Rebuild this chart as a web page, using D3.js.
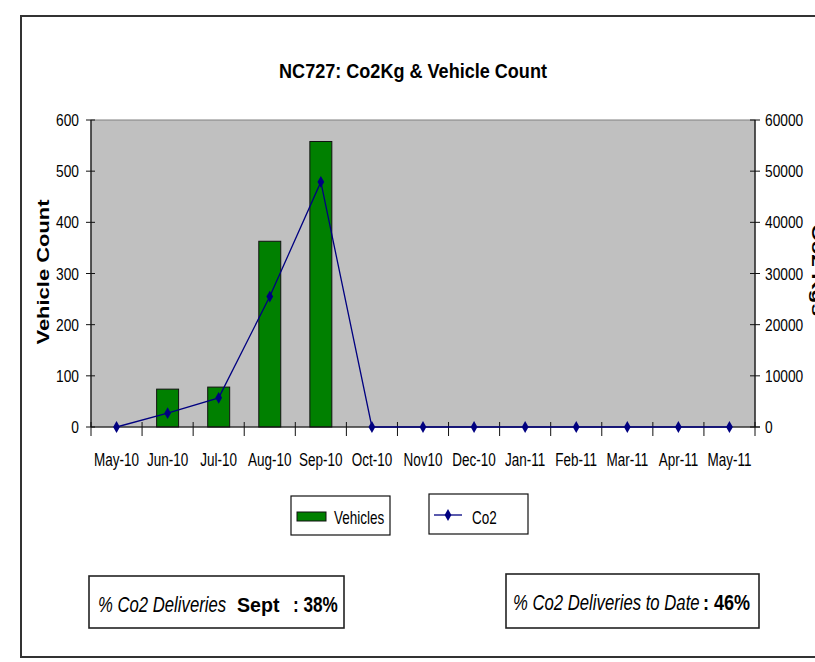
<!DOCTYPE html>
<html>
<head>
<meta charset="utf-8">
<script src="https://cdn.jsdelivr.net/npm/d3@7"></script>
<style>
  body { margin: 0; background: #fff; }
  text { font-family: "Liberation Sans", Arial, sans-serif; }
</style>
</head>
<body>
<div id="chart"></div>
<script>
// chart data
var months = ["May-10", "Jun-10", "Jul-10", "Aug-10", "Sep-10", "Oct-10", "Nov10",
              "Dec-10", "Jan-11", "Feb-11", "Mar-11", "Apr-11", "May-11"];
var vehicles = [0, 74, 78, 363, 558, 0, 0, 0, 0, 0, 0, 0, 0];
var co2 = [0, 2700, 5700, 25500, 47900, 0, 0, 0, 0, 0, 0, 0, 0];
var vehicleTicks = [0, 100, 200, 300, 400, 500, 600];
var co2Ticks = [0, 10000, 20000, 30000, 40000, 50000, 60000];

var width = 815, height = 662;
var plotL = 91, plotR = 755, plotT = 120, plotB = 427;

var svg = d3.select('#chart').append('svg')
  .attr('width', width)
  .attr('height', height);

// narrow text: the original uses a condensed face, so squeeze Liberation Sans
function ntext(parent, x, y, str, size, sx) {
  return parent.append('text')
    .attr('transform', 'translate(' + x + ',' + y + ') scale(' + sx + ',1)')
    .attr('font-size', size)
    .text(str);
}

// outer frame
svg.append('rect')
  .attr('x', 21).attr('y', 16)
  .attr('width', 820).attr('height', 641)
  .attr('fill', '#fff')
  .attr('stroke', '#333').attr('stroke-width', 2);

var x = d3.scaleBand()
  .domain(months)
  .range([plotL, plotR]);

var yLeft = d3.scaleLinear().domain([0, 600]).range([plotB, plotT]);
var yRight = d3.scaleLinear().domain([0, 60000]).range([plotB, plotT]);

// plot area
svg.append('rect')
  .attr('x', plotL).attr('y', plotT)
  .attr('width', plotR - plotL).attr('height', plotB - plotT)
  .attr('fill', '#c0c0c0')
  .attr('stroke', '#808080').attr('stroke-width', 1);

// title
ntext(svg, 413, 78, 'NC727: Co2Kg & Vehicle Count', 21, 0.86)
  .attr('text-anchor', 'middle')
  .attr('font-weight', 'bold');

// bars
var barW = x.bandwidth() * 0.43;
svg.selectAll('.bar')
  .data(vehicles)
  .enter().append('rect')
  .attr('class', 'bar')
  .attr('x', function(d, i) { return x(months[i]) + (x.bandwidth() - barW) / 2; })
  .attr('y', function(d) { return yLeft(d); })
  .attr('width', barW)
  .attr('height', function(d) { return plotB - yLeft(d); })
  .attr('fill', '#008000')
  .attr('stroke', '#111').attr('stroke-width', 1)
  .style('display', function(d) { return d > 0 ? null : 'none'; });

// axes lines
function line(x1, y1, x2, y2) {
  svg.append('line')
    .attr('x1', x1).attr('y1', y1).attr('x2', x2).attr('y2', y2)
    .attr('stroke', '#111').attr('stroke-width', 1.2);
}
line(plotL, plotT, plotL, plotB);
line(plotR, plotT, plotR, plotB);

// left axis
var leftAxis = svg.append('g').attr('transform', 'translate(' + plotL + ',0)');
leftAxis.selectAll('line').data(vehicleTicks).enter().append('line')
  .attr('x1', -5).attr('x2', 4)
  .attr('y1', function(d) { return yLeft(d); })
  .attr('y2', function(d) { return yLeft(d); })
  .attr('stroke', '#111');
vehicleTicks.forEach(function(d) {
  ntext(leftAxis, -12, yLeft(d) + 6, d, 16, 0.86).attr('text-anchor', 'end');
});

// right axis
var rightAxis = svg.append('g').attr('transform', 'translate(' + plotR + ',0)');
rightAxis.selectAll('line').data(co2Ticks).enter().append('line')
  .attr('x1', -5).attr('x2', 5)
  .attr('y1', function(d) { return yRight(d); })
  .attr('y2', function(d) { return yRight(d); })
  .attr('stroke', '#111');
co2Ticks.forEach(function(d) {
  ntext(rightAxis, 10, yRight(d) + 6, d, 16, 0.86);
});

// x axis
line(plotL, plotB, plotR + 5, plotB);
var ticksX = months.map(function(m) { return x(m); }).concat([plotR]);
svg.selectAll('.xtick').data(ticksX).enter().append('line')
  .attr('class', 'xtick')
  .attr('x1', function(d) { return d; }).attr('x2', function(d) { return d; })
  .attr('y1', plotB - 5).attr('y2', plotB + 9)
  .attr('stroke', '#111');
months.forEach(function(m) {
  ntext(svg, x(m) + x.bandwidth() / 2, 466, m, 18.5, 0.73).attr('text-anchor', 'middle');
});

// axis titles
svg.append('text')
  .attr('transform', 'translate(49,272) rotate(-90)')
  .attr('text-anchor', 'middle')
  .attr('font-size', 16).attr('font-weight', 'bold')
  .attr('textLength', 145).attr('lengthAdjust', 'spacingAndGlyphs')
  .text('Vehicle Count');
svg.append('text')
  .attr('transform', 'translate(812,270) rotate(90)')
  .attr('text-anchor', 'middle')
  .attr('font-size', 16).attr('font-weight', 'bold')
  .attr('textLength', 92).attr('lengthAdjust', 'spacingAndGlyphs')
  .text('Co2 Kgs');

// co2 line
var co2Line = d3.line()
  .x(function(d, i) { return x(months[i]) + x.bandwidth() / 2; })
  .y(function(d) { return yRight(d); });
svg.append('path')
  .datum(co2)
  .attr('d', co2Line)
  .attr('fill', 'none')
  .attr('stroke', '#000080').attr('stroke-width', 1.3);
var diamond = d3.symbol().type(d3.symbolDiamond).size(40);
svg.selectAll('.pt').data(co2).enter().append('path')
  .attr('class', 'pt')
  .attr('d', diamond)
  .attr('transform', function(d, i) {
    return 'translate(' + (x(months[i]) + x.bandwidth() / 2) + ',' + yRight(d) + ')';
  })
  .attr('fill', '#000080');

// legend
var lg1 = svg.append('g').attr('transform', 'translate(291,496)');
lg1.append('rect').attr('width', 99).attr('height', 39)
  .attr('fill', '#fff').attr('stroke', '#111').attr('stroke-width', 1.2);
lg1.append('rect').attr('x', 6).attr('y', 16).attr('width', 29).attr('height', 9)
  .attr('fill', '#008000').attr('stroke', '#111');
ntext(lg1, 43, 28, 'Vehicles', 18, 0.75);

var lg2 = svg.append('g').attr('transform', 'translate(429,494)');
lg2.append('rect').attr('width', 99).attr('height', 40)
  .attr('fill', '#fff').attr('stroke', '#111').attr('stroke-width', 1.2);
lg2.append('line').attr('x1', 5).attr('x2', 33).attr('y1', 21).attr('y2', 21)
  .attr('stroke', '#000080').attr('stroke-width', 1.3);
lg2.append('path').attr('d', diamond).attr('transform', 'translate(19,21)').attr('fill', '#000080');
ntext(lg2, 43, 30, 'Co2', 18, 0.75);

// delivery boxes
var box1 = svg.append('g').attr('transform', 'translate(89,576)');
box1.append('rect').attr('width', 255).attr('height', 52)
  .attr('fill', '#fff').attr('stroke', '#222').attr('stroke-width', 1.6);
ntext(box1, 9, 36, '% Co2 Deliveries', 22, 0.76).attr('font-style', 'italic');
ntext(box1, 148, 36, 'Sept', 20, 0.98).attr('font-weight', 'bold');
ntext(box1, 204, 36, ': 38%', 22, 0.78).attr('font-weight', 'bold');

var box2 = svg.append('g').attr('transform', 'translate(506,574)');
box2.append('rect').attr('width', 253).attr('height', 54)
  .attr('fill', '#fff').attr('stroke', '#222').attr('stroke-width', 1.6);
ntext(box2, 7, 36, '% Co2 Deliveries to Date', 22, 0.76).attr('font-style', 'italic');
ntext(box2, 197, 36, ': 46%', 22, 0.82).attr('font-weight', 'bold');
</script>
</body>
</html>
